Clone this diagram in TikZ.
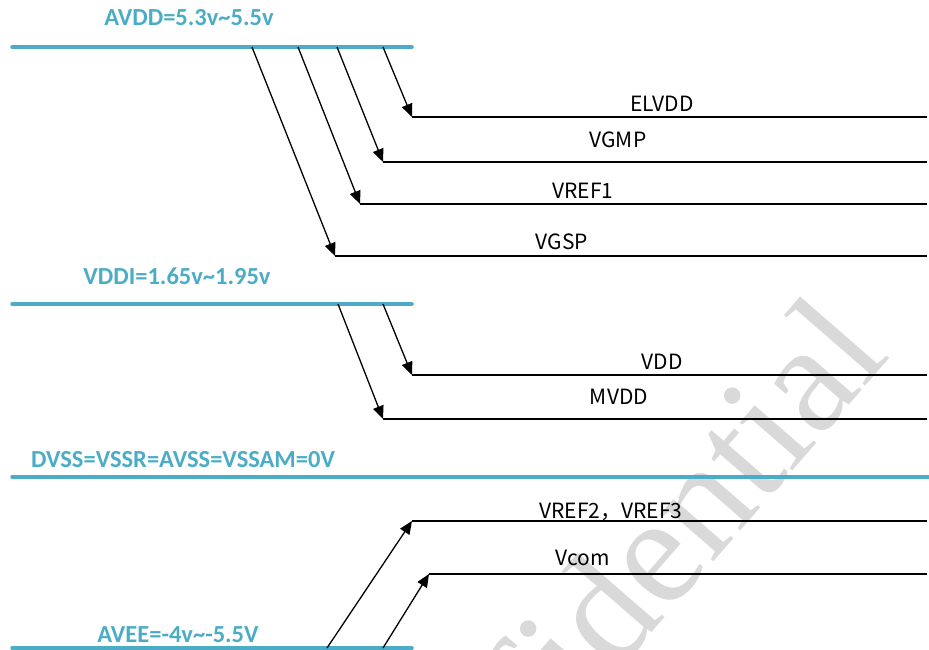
\documentclass[tikz,border=0pt]{standalone}
\usepackage{fontspec}
\setmainfont{Carlito}
\newfontfamily\cjkfont{Noto Sans CJK SC}
\newfontfamily\wmfont{Liberation Serif}
\usetikzlibrary{arrows.meta}
\definecolor{bus}{HTML}{4BACC6}
\definecolor{wm}{HTML}{D9D9D9}
\tikzset{
  busline/.style={draw=bus, line width=3.5pt, line cap=round},
  buslabel/.style={text=bus, font=\fontsize{24.5}{24.5}\selectfont\bfseries, anchor=base, inner sep=0pt},
  sig/.style={draw=black, line width=1.3pt, -{Triangle[length=13pt,width=11pt]}},
  rail/.style={draw=black, line width=1.3pt},
  siglabel/.style={font=\cjkfont\fontsize{21}{21}\selectfont, anchor=base, inner sep=0pt}
}
\begin{document}
\begin{tikzpicture}[x=1pt,y=-1pt]
\useasboundingbox (0,0) rectangle (929,650);
\clip (0,0) rectangle (929,650);
% watermark
\node[text=wm, font=\wmfont\fontsize{155}{155}\selectfont, rotate=49, anchor=base east, inner sep=0pt] (wmark) at (892,356) {Confidential};
% buses
\coordinate (avddL) at (12,47);  \coordinate (avddR) at (412,47);
\coordinate (vddiL) at (12,304); \coordinate (vddiR) at (412,304);
\coordinate (dvssL) at (12,477); \coordinate (dvssR) at (935,477);
\coordinate (aveeL) at (12,648); \coordinate (aveeR) at (412,648);
\draw[busline] (avddL) -- (avddR);
\draw[busline] (vddiL) -- (vddiR);
\draw[busline] (dvssL) -- (dvssR);
\draw[busline] (aveeL) -- (aveeR);
\node[buslabel] (avddT) at (189,26) {AVDD=5.3v\textasciitilde5.5v};
\node[buslabel] (vddiT) at (177,284) {VDDI=1.65v\textasciitilde1.95v};
\node[buslabel] (dvssT) at (183,467) {DVSS=VSSR=AVSS=VSSAM=0V};
\node[buslabel] (aveeT) at (178,642) {AVEE=-4v\textasciitilde-5.5V};
% AVDD taps
\coordinate (a1) at (383,47); \coordinate (e1) at (412,117); \coordinate (r1) at (927,117);
\coordinate (a2) at (337,47); \coordinate (e2) at (383,162); \coordinate (r2) at (927,162);
\coordinate (a3) at (298,47); \coordinate (e3) at (360,204); \coordinate (r3) at (927,204);
\coordinate (a4) at (252,47); \coordinate (e4) at (335,256); \coordinate (r4) at (927,256);
\draw[sig] (a1) -- (e1); \draw[rail] (e1) -- (r1);
\draw[sig] (a2) -- (e2); \draw[rail] (e2) -- (r2);
\draw[sig] (a3) -- (e3); \draw[rail] (e3) -- (r3);
\draw[sig] (a4) -- (e4); \draw[rail] (e4) -- (r4);
\node[siglabel] (elvdd) at (662,112) {ELVDD};
\node[siglabel] (vgmp) at (618,147) {VGMP};
\node[siglabel] (vref1) at (583,198) {VREF1};
\node[siglabel] (vgsp) at (562,249) {VGSP};
% VDDI taps
\coordinate (b1) at (383,304); \coordinate (f1) at (412,375); \coordinate (s1) at (927,375);
\coordinate (b2) at (338,304); \coordinate (f2) at (383,419); \coordinate (s2) at (927,419);
\draw[sig] (b1) -- (f1); \draw[rail] (f1) -- (s1);
\draw[sig] (b2) -- (f2); \draw[rail] (f2) -- (s2);
\node[siglabel] (vdd) at (662,369) {VDD};
\node[siglabel] (mvdd) at (619,404) {MVDD};
% AVEE taps
\coordinate (c1) at (327,648); \coordinate (g1) at (412,521); \coordinate (t1) at (927,521);
\coordinate (c2) at (383,648); \coordinate (g2) at (429,574); \coordinate (t2) at (927,574);
\draw[sig] (c1) -- (g1); \draw[rail] (g1) -- (t1);
\draw[sig] (c2) -- (g2); \draw[rail] (g2) -- (t2);
\node[siglabel] (vref23) at (611,518) {VREF2，VREF3};
\node[siglabel] (vcom) at (583,565) {Vcom};
\end{tikzpicture}
\end{document}
